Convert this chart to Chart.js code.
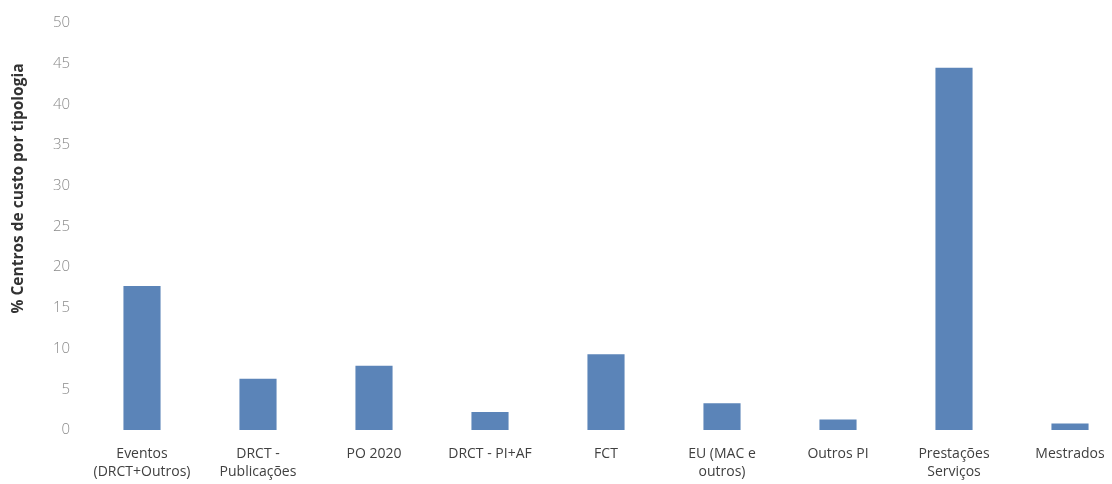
<!DOCTYPE html>
<html>
<head>
<meta charset="utf-8">
<script src="https://cdn.jsdelivr.net/npm/chart.js@4"></script>
<style>
  html, body { margin: 0; padding: 0; background: #fff; overflow: hidden; }
  #wrap { position: relative; width: 1128px; height: 484px; }
</style>
</head>
<body>
<div id="wrap"><canvas id="custosChart"></canvas></div>
<script>
// categorias (rótulos em duas linhas quando necessário)
const categorias = [
  ['Eventos', '(DRCT+Outros)'],
  ['DRCT -', 'Publicações'],
  'PO 2020',
  'DRCT - PI+AF',
  'FCT',
  ['EU (MAC e', 'outros)'],
  'Outros PI',
  ['Prestações', 'Serviços'],
  'Mestrados'
];

// % centros de custo por tipologia
const percentagens = [17.7, 6.3, 7.9, 2.2, 9.3, 3.3, 1.3, 44.5, 0.8];

const tituloY = '% Centros de custo por tipologia';

// desenha o título do eixo Y (um pouco acima do centro, como no original)
const tituloEixo = {
  id: 'tituloEixo',
  afterDraw(chart) {
    const c = chart.ctx;
    const area = chart.chartArea;
    c.save();
    c.translate(19, (area.top + area.bottom) / 2 - 38);
    c.rotate(-Math.PI / 2);
    c.font = 'bold 15.5px "Open Sans"';
    c.fillStyle = '#333';
    c.textAlign = 'center';
    c.textBaseline = 'middle';
    c.fillText(tituloY, 0, 0);
    c.restore();
  }
};

let ctx = document.getElementById('custosChart').getContext('2d');

let grafico = new Chart(ctx, {
  type: 'bar',
  data: {
    labels: categorias,
    datasets: [{
      data: percentagens,
      backgroundColor: '#5b84b8',
      borderWidth: 0,
      categoryPercentage: 1,
      barPercentage: 0.32
    }]
  },
  options: {
    responsive: true,
    maintainAspectRatio: false,
    animation: false,
    layout: { padding: { top: 20, bottom: 0, left: 0, right: 0 } },
    plugins: {
      legend: { display: false },
      tooltip: { enabled: false }
    },
    scales: {
      x: {
        afterFit: s => { s.height = 54; },
        grid: { display: false, drawTicks: false },
        border: { display: false },
        ticks: {
          color: '#404040',
          font: { family: '"Open Sans"', size: 14, lineHeight: 1.3 },
          padding: 15,
          maxRotation: 0,
          autoSkip: false
        }
      },
      y: {
        min: 0,
        max: 50,
        afterFit: s => { s.width = 84; },
        grid: { display: false, drawTicks: false },
        border: { display: false },
        ticks: {
          stepSize: 5,
          color: '#8a8a8a',
          font: { family: '"Open Sans"', size: 15, weight: '300' },
          padding: 14
        }
      }
    }
  },
  plugins: [tituloEixo]
});
</script>
</body>
</html>
